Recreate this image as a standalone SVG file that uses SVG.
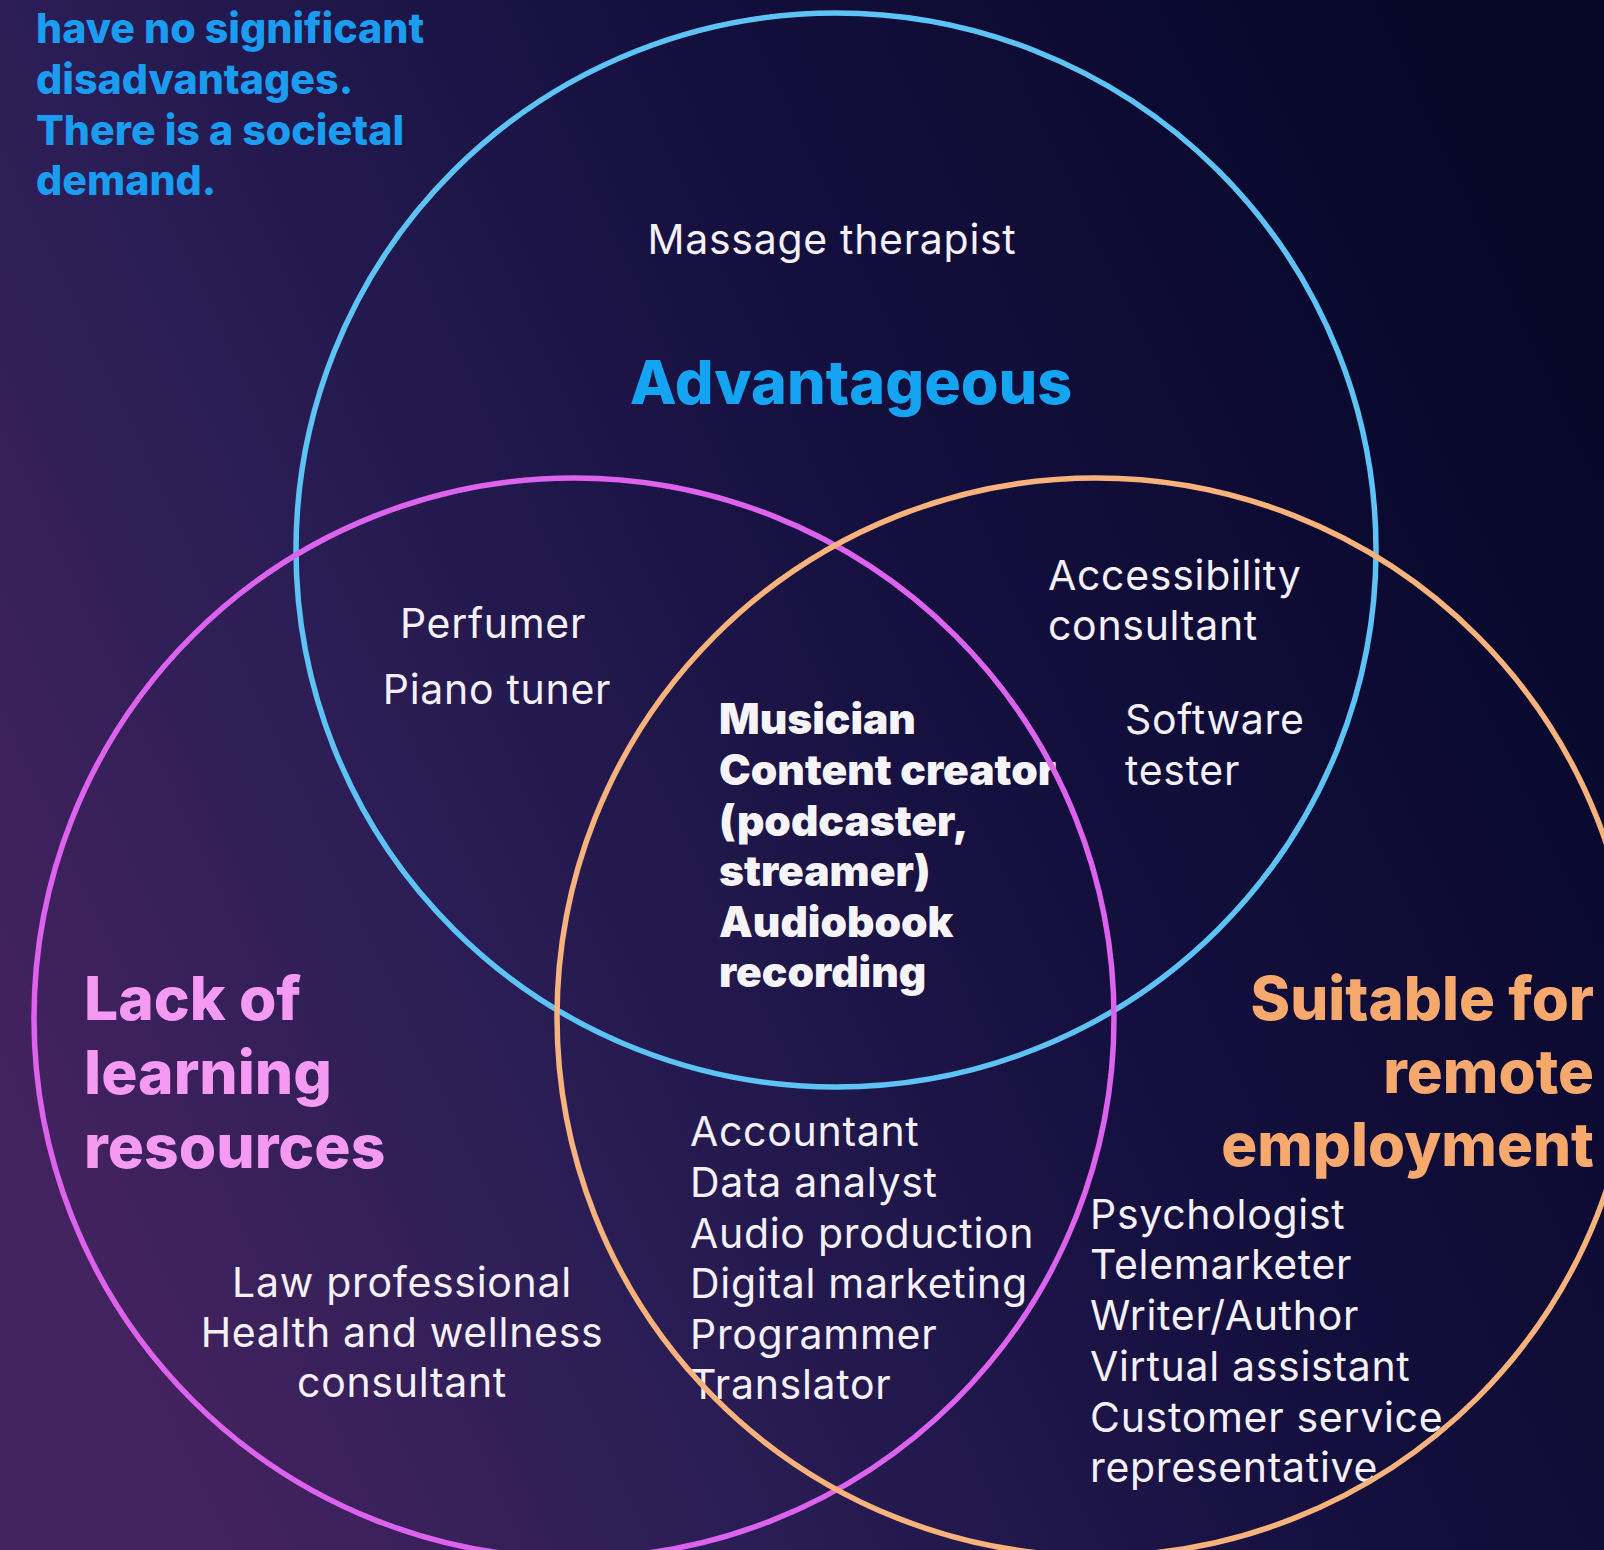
<svg xmlns="http://www.w3.org/2000/svg" width="1604" height="1550" viewBox="0 0 1604 1550">
  <defs>
    <linearGradient id="bg" x1="0" y1="0.75" x2="1" y2="0.3">
      <stop offset="0" stop-color="#45235f"/>
      <stop offset="0.3" stop-color="#2a1d55"/>
      <stop offset="0.6" stop-color="#15103f"/>
      <stop offset="1" stop-color="#07072a"/>
    </linearGradient>
    <style>
      .item { font-family: Inter, "Noto Sans", "Liberation Sans", sans-serif; font-size: 41px; fill: #f4f0f8; letter-spacing: 0.7px; }
      .core { font-family: Inter, "Noto Sans", "Liberation Sans", sans-serif; font-size: 42.5px; font-weight: 900; fill: #f6f4f8; }
      .title { font-family: Inter, "Noto Sans", "Liberation Sans", sans-serif; font-weight: 800; }
      .ring { fill: none; stroke-width: 5.5; }
    </style>
  </defs>

  <rect x="0" y="0" width="1604" height="1550" fill="url(#bg)"/>

  <!-- note in the top-left corner -->
  <g id="note" class="title" font-size="41.2" fill="#1a9cf0">
    <text x="36" y="43">have no significant</text>
    <text x="36" y="94">disadvantages.</text>
    <text x="36" y="145">There is a societal</text>
    <text x="36" y="195">demand.</text>
  </g>

  <!-- Advantageous only -->
  <g id="advantageous">
    <text class="item" x="832" y="254" text-anchor="middle">Massage therapist</text>
    <text class="title" x="851" y="404" font-size="61" fill="#14a4f2" text-anchor="middle">Advantageous</text>
  </g>

  <!-- Advantageous + lack of learning resources -->
  <g id="adv-lack">
    <text class="item" x="493" y="638" text-anchor="middle">Perfumer</text>
    <text class="item" x="497" y="704" text-anchor="middle">Piano tuner</text>
  </g>

  <!-- Advantageous + remote -->
  <g id="adv-remote">
    <text class="item" x="1048" y="590">Accessibility</text>
    <text class="item" x="1048" y="640">consultant</text>
    <text class="item" x="1125" y="734">Software</text>
    <text class="item" x="1125" y="785">tester</text>
  </g>

  <!-- all three sets -->
  <g id="all-three" class="core">
    <text x="719" y="734">Musician</text>
    <text x="719" y="785">Content creator</text>
    <text x="719" y="836">(podcaster,</text>
    <text x="719" y="886">streamer)</text>
    <text x="719" y="937">Audiobook</text>
    <text x="719" y="987">recording</text>
  </g>

  <!-- Lack of learning resources only -->
  <g id="lack">
    <g class="title" font-size="60.5" fill="#f59af2">
      <text x="84" y="1020">Lack of</text>
      <text x="84" y="1094">learning</text>
      <text x="84" y="1168">resources</text>
    </g>
    <text class="item" x="402" y="1297" text-anchor="middle">Law professional</text>
    <text class="item" x="402" y="1347" text-anchor="middle">Health and wellness</text>
    <text class="item" x="402" y="1397" text-anchor="middle">consultant</text>
  </g>

  <!-- Lack of learning resources + remote -->
  <g id="lack-remote">
    <text class="item" x="690" y="1146">Accountant</text>
    <text class="item" x="690" y="1197">Data analyst</text>
    <text class="item" x="690" y="1248">Audio production</text>
    <text class="item" x="690" y="1298">Digital marketing</text>
    <text class="item" x="690" y="1349">Programmer</text>
    <text class="item" x="690" y="1399">Translator</text>
  </g>

  <!-- Suitable for remote employment only -->
  <g id="remote">
    <g class="title" font-size="60" fill="#f7a86c" text-anchor="end">
      <text x="1594" y="1020">Suitable for</text>
      <text x="1594" y="1093">remote</text>
      <text x="1594" y="1166">employment</text>
    </g>
    <text class="item" x="1090" y="1229">Psychologist</text>
    <text class="item" x="1090" y="1279">Telemarketer</text>
    <text class="item" x="1090" y="1330">Writer/Author</text>
    <text class="item" x="1090" y="1381">Virtual assistant</text>
    <text class="item" x="1090" y="1432">Customer service</text>
    <text class="item" x="1090" y="1482">representative</text>
  </g>

  <!-- the three set outlines -->
  <g id="rings">
    <ellipse id="ring-advantageous" class="ring" cx="836" cy="550" rx="540" ry="537" stroke="#5cc3f4"/>
    <circle id="ring-lack" class="ring" cx="574" cy="1018" r="540" stroke="#dd62ee"/>
    <circle id="ring-remote" class="ring" cx="1096" cy="1017" r="539" stroke="#f8b27c"/>
  </g>
</svg>
